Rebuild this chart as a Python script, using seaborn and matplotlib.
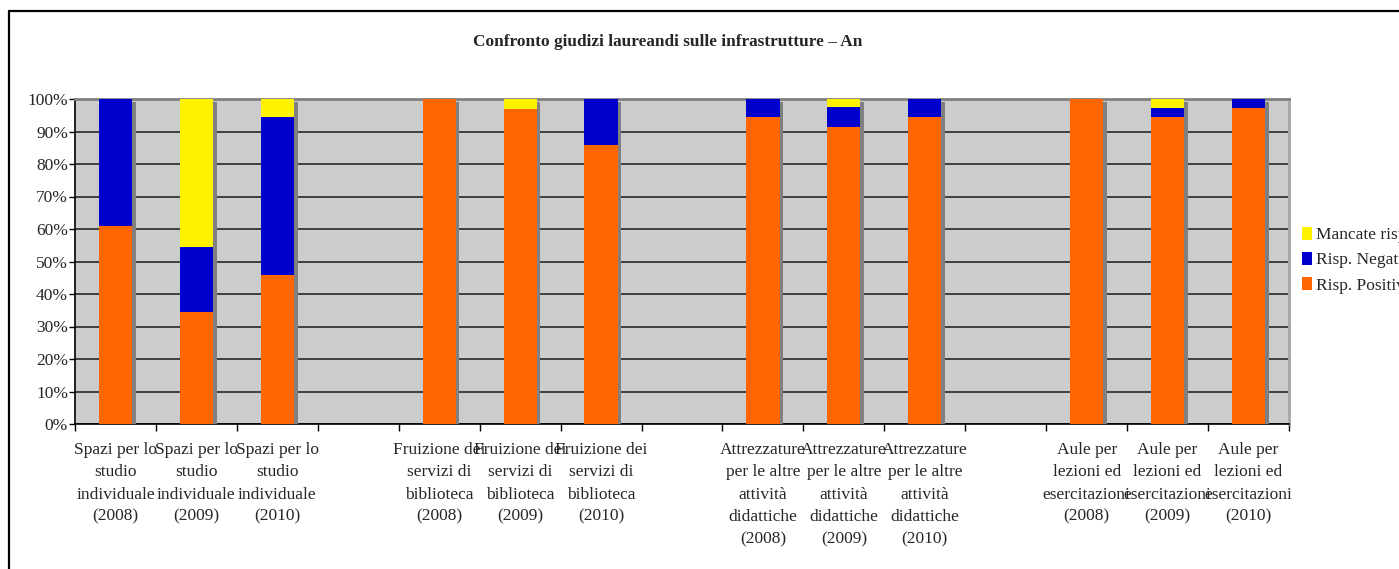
import numpy as np
import pandas as pd
import matplotlib
matplotlib.use("Agg")
import matplotlib.pyplot as plt
import matplotlib.patheffects as pe
from matplotlib.patches import Patch
from matplotlib.lines import Line2D
import seaborn as sns

# data (percent of answers)
categories = [
    "Spazi per lo\nstudio\nindividuale\n(2008)",
    "Spazi per lo\nstudio\nindividuale\n(2009)",
    "Spazi per lo\nstudio\nindividuale\n(2010)",
    "Fruizione dei\nservizi di\nbiblioteca\n(2008)",
    "Fruizione dei\nservizi di\nbiblioteca\n(2009)",
    "Fruizione dei\nservizi di\nbiblioteca\n(2010)",
    "Attrezzature\nper le altre\nattività\ndidattiche\n(2008)",
    "Attrezzature\nper le altre\nattività\ndidattiche\n(2009)",
    "Attrezzature\nper le altre\nattività\ndidattiche\n(2010)",
    "Aule per\nlezioni ed\nesercitazioni\n(2008)",
    "Aule per\nlezioni ed\nesercitazioni\n(2009)",
    "Aule per\nlezioni ed\nesercitazioni\n(2010)",
]
# empty slots between the groups
gaps = [" ", "  ", "   "]
order = categories[0:3] + [gaps[0]] + categories[3:6] + [gaps[1]] + categories[6:9] + [gaps[2]] + categories[9:12]

positive = [61.0, 34.5, 46.0, 100.0, 97.0, 86.0, 94.5, 91.5, 94.5, 100.0, 94.5, 97.2]
negative = [39.0, 20.0, 48.5, 0.0, 0.0, 14.0, 5.5, 6.0, 5.5, 0.0, 2.8, 2.8]
missing = [0.0, 45.5, 5.5, 0.0, 3.0, 0.0, 0.0, 2.5, 0.0, 0.0, 2.7, 0.0]

series_names = ["Mancate risposte", "Risp. Negative", "Risp. Positive"]
colors = {"Mancate risposte": "#FFF200", "Risp. Negative": "#0000CC", "Risp. Positive": "#FF6600"}

df = pd.DataFrame({"categoria": categories, "pos": positive, "neg": negative, "mis": missing})
df["cum_neg"] = df["pos"] + df["neg"]
df["cum_all"] = df["cum_neg"] + df["mis"]

sns.set_theme(style="white")
plt.rcParams["font.family"] = ["Liberation Serif", "DejaVu Serif"]

fig = plt.figure(figsize=(13.99, 5.69), dpi=100)
ax = fig.add_axes([75 / 1399, 1 - 424 / 569, 1214 / 1399, 325 / 569])
ax.set_facecolor("#CCCCCC")

bw = 0.41
shadow = [pe.SimplePatchShadow(offset=(2.6, -2.4), shadow_rgbFace="#808080", alpha=1.0), pe.Normal()]
sns.barplot(data=df, x="categoria", y="cum_all", order=order, color=colors["Mancate risposte"],
            width=bw, errorbar=None, saturation=1, ax=ax, linewidth=0, zorder=3)
for p in ax.patches:
    p.set_path_effects(shadow)
sns.barplot(data=df, x="categoria", y="cum_neg", order=order, color=colors["Risp. Negative"],
            width=bw, errorbar=None, saturation=1, ax=ax, linewidth=0, zorder=4)
sns.barplot(data=df, x="categoria", y="pos", order=order, color=colors["Risp. Positive"],
            width=bw, errorbar=None, saturation=1, ax=ax, linewidth=0, zorder=5)

ax.set_xlim(-0.5, len(order) - 0.5)
ax.set_ylim(0, 100)
ax.set_xlabel("")
ax.set_ylabel("")

yt = np.arange(0, 101, 10)
ax.set_yticks(yt)
ax.set_yticklabels([f"{v}%" for v in yt], fontsize=12.5)
ax.yaxis.grid(True, color="#1a1a1a", linewidth=1.1)
ax.set_axisbelow(True)
for g in ax.get_ygridlines():
    g.set_zorder(1)

ax.set_xticks(np.arange(len(order)))
ax.set_xticklabels(order, fontsize=12.5, linespacing=1.52, va="top")
ax.set_xticks(np.arange(-0.5, len(order), 1), minor=True)
ax.tick_params(axis="x", which="major", length=0, pad=13)
ax.tick_params(axis="x", which="minor", length=5, width=1, color="black", direction="out", bottom=True)
ax.tick_params(axis="y", which="major", length=4, width=1, color="black", direction="out", left=True, pad=1)

for side in ["left", "bottom"]:
    ax.spines[side].set_color("black")
    ax.spines[side].set_linewidth(1.2)
ax.spines["top"].set_color("#808080")
ax.spines["top"].set_linewidth(2)
ax.spines["right"].set_color("#A6A6A6")
ax.spines["right"].set_linewidth(2)

fig.text(473 / 1399, 1 - 42 / 569, "Confronto giudizi laureandi sulle infrastrutture – An",
         fontsize=12.4, fontweight="bold", ha="left", va="center")

handles = [Patch(facecolor=colors[s], edgecolor="none") for s in series_names]
fig.legend(handles, series_names, loc="upper left", bbox_to_anchor=(1295 / 1399, 1 - 220 / 569),
           frameon=False, fontsize=12.5, handlelength=0.6, handleheight=0.75,
           handletextpad=0.2, labelspacing=0.5, borderaxespad=0)

# outer chart-area border (cut at the right and bottom in the original)
fig.add_artist(Line2D([9 / 1399, 9 / 1399], [0, 1 - 11 / 569], color="black", linewidth=1.6,
                      transform=fig.transFigure))
fig.add_artist(Line2D([9 / 1399, 1], [1 - 11 / 569, 1 - 11 / 569], color="black", linewidth=1.6,
                      transform=fig.transFigure))

fig.savefig("out.png", dpi=100)
